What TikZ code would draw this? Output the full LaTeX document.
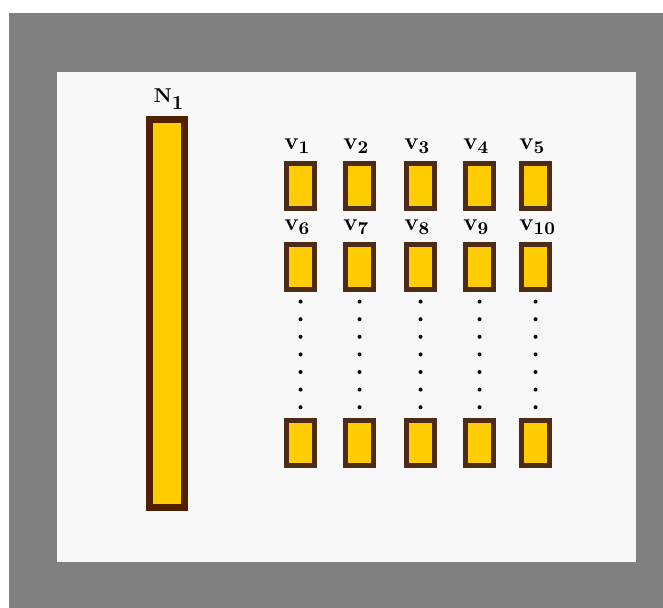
\documentclass[tikz,border=0pt]{standalone}
\usepackage{tikz}
\usetikzlibrary{positioning}
\definecolor{framegray}{HTML}{808080}
\definecolor{panelgray}{HTML}{F8F8F8}
\definecolor{boxyellow}{HTML}{FFCC00}
\definecolor{nbrown}{HTML}{502000}
\definecolor{vbrown}{HTML}{4D2B16}
\newcommand{\vname}[1]{\textbf{v}$_{\mbox{\small\bfseries #1}}$}

\begin{document}
\begin{tikzpicture}[x=0.5pt,y=-0.5pt,
bar/.style={draw=nbrown,fill=boxyellow,line width=3.5pt,inner sep=0pt,minimum width=17.5pt,minimum height=194pt},
vbox/.style={draw=vbrown,fill=boxyellow,line width=2.5pt,inner sep=0pt,minimum width=14pt,minimum height=22.5pt},
vlab/.style={inner sep=0pt,anchor=base west,font=\large},
dotcol/.style={line width=2pt,line cap=round,dash pattern=on 0pt off 8.8pt,shorten <=4.8pt,shorten >=5.3pt}]
\useasboundingbox (0,0) rectangle (663,608);
\fill[white] (0,0) rectangle (663,608);
\fill[framegray] (9,13) rectangle (663,608);
\fill[panelgray] (57,72) rectangle (636,562);
% tall block on the left
\node[bar] (n1) at (167,313.5) {};
\node[inner sep=0pt,anchor=base] (n1lab) at ([xshift=1pt,yshift=6.5pt]n1.north) {\textbf{N}$_{\mbox{\bfseries 1}}$};
% grid of small blocks
\foreach \x [count=\i, evaluate=\i as \j using {int(\i+5)}, evaluate=\i as \k using {int(\i+10)}] in {300.5,359.5,420.5,479.5,535.5} {
  \node[vbox] (v\i) at (\x,186) {};
  \node[vbox] (v\j) at (\x,267) {};
  \node[vbox] (v\k) at (\x,443) {};
  \node[vlab] (v\i lab) at ([yshift=5.5pt]v\i.north west) {\vname{\i}};
  \node[vlab] (v\j lab) at ([yshift=5.5pt]v\j.north west) {\vname{\j}};
  \draw[dotcol] (v\j) -- (v\k);
}
\end{tikzpicture}
\end{document}
